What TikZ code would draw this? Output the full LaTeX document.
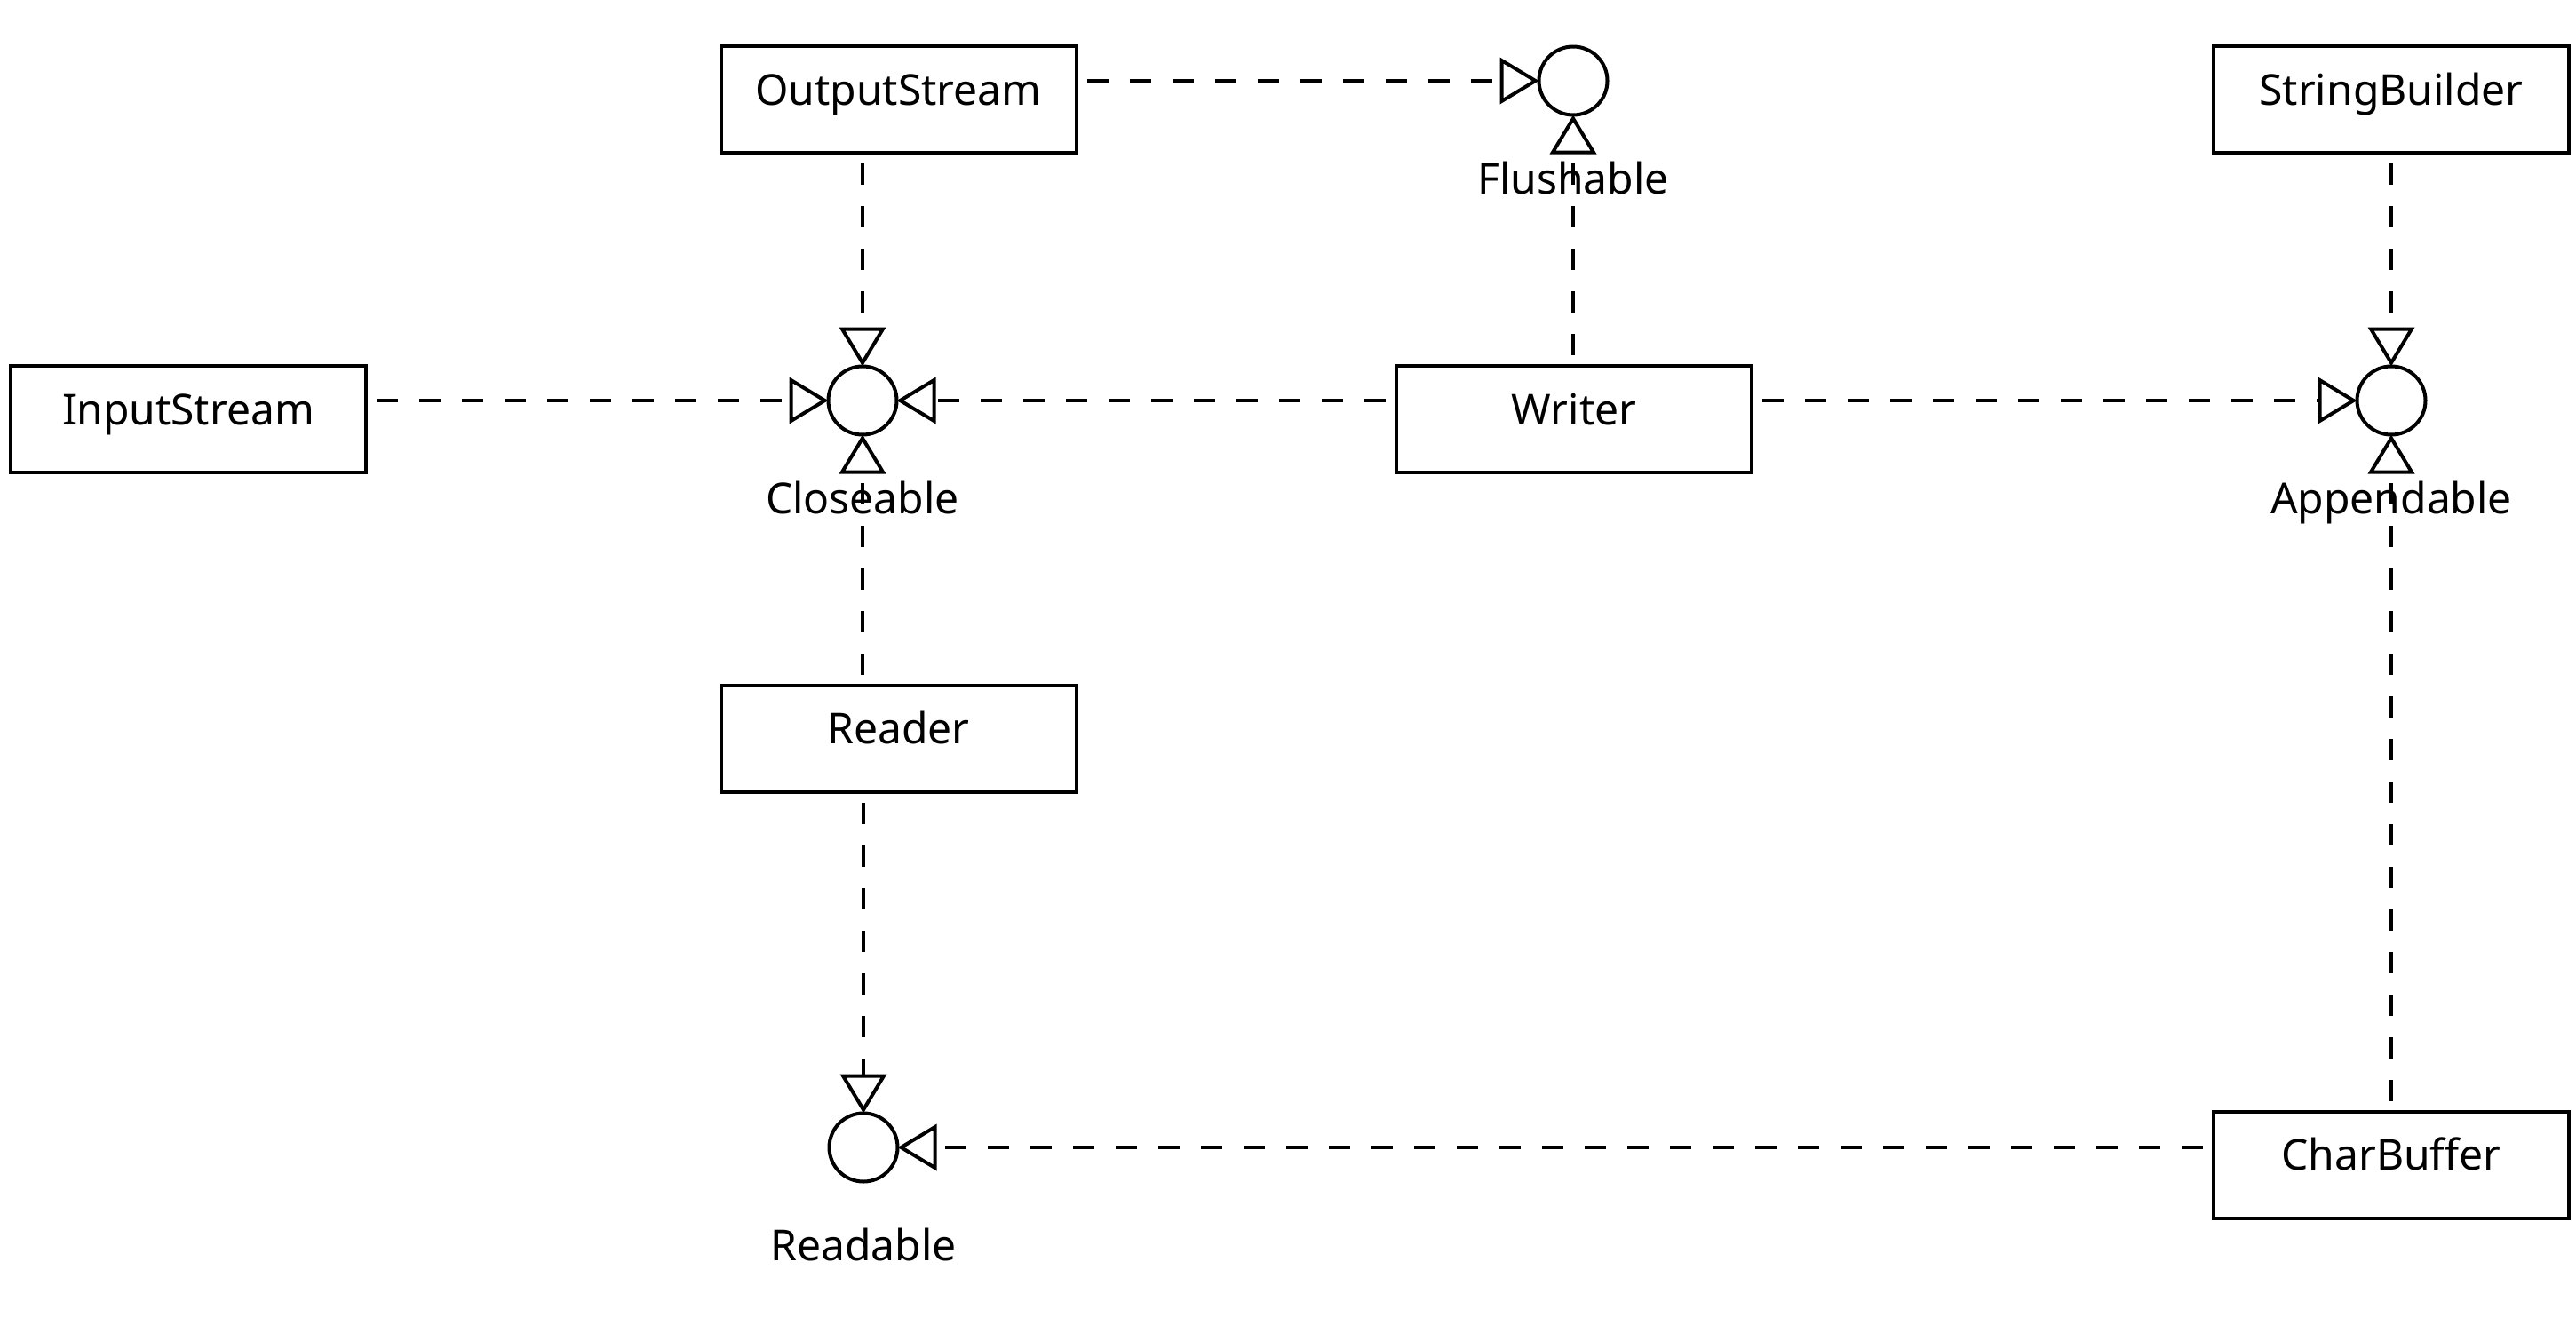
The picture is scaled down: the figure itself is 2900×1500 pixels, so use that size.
\documentclass[tikz,border=0pt]{standalone}
\usepackage{fontspec}
\setmainfont{Noto Sans}
\usetikzlibrary{arrows.meta,positioning}

\begin{document}
\begin{tikzpicture}[x=0.25pt,y=-0.25pt,line width=1pt,
  font=\fontsize{12pt}{14pt}\selectfont,
  cls/.style={draw,fill=white,minimum width=100pt,minimum height=30pt,
    text height=8.2pt,text depth=5pt,inner sep=0,outer sep=0},
  iface/.style={draw,circle,minimum size=19.25pt,inner sep=0,outer sep=0},
  ifname/.style={text height=9.1pt,text depth=2.6pt,inner sep=0},
  impl/.style={dash pattern=on 6pt off 6pt,dash phase=9pt,
    -{Triangle[open,length=11pt,width=13pt]}}]
  \useasboundingbox (0,0) rectangle (2900,1500);
  % classes
  \node(out)[cls] at (1011.5,112) {OutputStream};
  \node(sb)[cls] at (2692,112) {StringBuilder};
  \node(in)[cls] at (212,472) {InputStream};
  \node(writer)[cls] at (1772,472) {Writer};
  \node(reader)[cls] at (1011.5,831.5) {Reader};
  \node(cb)[cls] at (2692,1311.5) {CharBuffer};
  % interfaces
  \node(flush)[iface] at (1771,91) {};
  \node(close)[iface] at (971,451) {};
  \node(append)[iface] at (2692,451) {};
  \node(read)[iface] at (972,1292) {};
  \node(flushlbl)[ifname,below=12.6pt of flush] {Flushable};
  \node(closelbl)[ifname,below=12.6pt of close] {Closeable};
  \node(appendlbl)[ifname,below=12.6pt of append] {Appendable};
  \node(readlbl)[ifname,below=12.6pt of read] {Readable};
  % realizations
  \draw[impl] (out.east |- flush) -- (flush);
  \draw[impl] (out.south -| close) -- (close);
  \draw[impl] (in.east |- close) -- (close);
  \draw[impl] (writer.west |- close) -- (close);
  \draw[impl] (writer.north -| flush) -- (flush);
  \draw[impl] (writer.east |- append) -- (append);
  \draw[impl] (sb.south -| append) -- (append);
  \draw[impl] (cb.north -| append) -- (append);
  \draw[impl] (reader.north -| close) -- (close);
  \draw[impl] (reader.south -| read) -- (read);
  \draw[impl] (cb.west |- read) -- (read);
\end{tikzpicture}
\end{document}
